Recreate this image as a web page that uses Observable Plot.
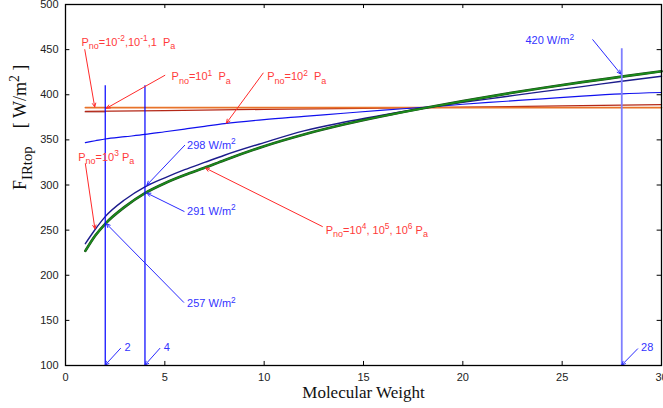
<!DOCTYPE html>
<html><head><meta charset="utf-8">
<script src="https://cdn.jsdelivr.net/npm/d3@7"></script>
<script src="https://cdn.jsdelivr.net/npm/@observablehq/plot@0.6"></script>
<style>html,body{margin:0;padding:0;background:#fff;overflow:hidden} svg{display:block}</style>
</head><body><div id="chart"></div>
<script>
// ---- data ----
const xTicks = [0, 5, 10, 15, 20, 25, 30];
const yTicks = [100, 150, 200, 250, 300, 350, 400, 450, 500];

const molWeight = [1, 1.5, 2, 3, 4, 5, 6, 7, 8, 10, 12, 14, 16, 18, 20, 22, 24, 26, 28, 30];
const fluxP1e4to1e6 = [227, 244, 257, 276, 291, 302, 311, 319, 327.5, 343, 356, 367, 376.5, 385, 393, 400.5, 407.5, 414, 420, 426];
const fluxP1e3 = [235, 251, 265, 284, 298, 308, 317, 325, 333, 347, 360, 369.5, 377.5, 385, 391.5, 397.5, 403.5, 409, 415, 420.5];
const fluxP1e2 = [347, 349, 351, 353.5, 356, 359, 362, 365, 368, 372.5, 376, 379.5, 383, 386, 389.5, 392.5, 395.5, 398.5, 401, 402.5];

const lowPWeight = [1, 5, 10, 15, 20, 25, 30];
const fluxLowP = [385.8, 385.8, 385.8, 385.8, 385.8, 385.8, 385.8];   // 10^-2, 10^-1, 1 Pa
const fluxP1e1 = [381.5, 382.5, 383.8, 385, 386.3, 387.6, 389];       // 10^1 Pa
const roseWeight = [1, 2];
const fluxRose = [381, 381];

const markerWeight = [2, 4];
const markerTop = [410, 410];
const n2Weight = [28];
const n2Top = [451];

const redLabels = [
  {text: "P_{no}=10^{-2},10^{-1},1  P_{a}", x: 0.8, y: 458},
  {text: "P_{no}=10^{1}  P_{a}", x: 5.34, y: 420},
  {text: "P_{no}=10^{2}  P_{a}", x: 10.15, y: 420},
  {text: "P_{no}=10^{3} P_{a}", x: 0.64, y: 331},
  {text: "P_{no}=10^{4}, 10^{5}, 10^{6} P_{a}", x: 13.1, y: 250}
];
const redArrows = [
  {x1: 0.97, y1: 450, x2: 1.47, y2: 386.5},
  {x1: 5.0, y1: 421.5, x2: 2.06, y2: 385},
  {x1: 9.95, y1: 424, x2: 8.1, y2: 368.6},
  {x1: 1.0, y1: 323.6, x2: 1.48, y2: 251.5},
  {x1: 12.93, y1: 254, x2: 7.05, y2: 318.7}
];
const blueLabels = [
  {text: "420 W/m^{2}", x: 23.15, y: 460},
  {text: "298 W/m^{2}", x: 6.12, y: 344},
  {text: "291 W/m^{2}", x: 6.12, y: 270.7},
  {text: "257 W/m^{2}", x: 6.12, y: 168.4},
  {text: "2", x: 2.97, y: 119.6},
  {text: "4", x: 4.95, y: 119.6},
  {text: "28", x: 28.97, y: 119.6}
];
const blueArrows = [
  {x1: 26.54, y1: 461, x2: 27.95, y2: 423},
  {x1: 6.0, y1: 344, x2: 4.1, y2: 300},
  {x1: 5.97, y1: 270.7, x2: 4.1, y2: 291},
  {x1: 5.95, y1: 170, x2: 2.06, y2: 257},
  {x1: 2.77, y1: 119, x2: 2.0, y2: 100.5},
  {x1: 4.75, y1: 119, x2: 4.0, y2: 100.5},
  {x1: 28.8, y1: 118.5, x2: 28.0, y2: 100.5}
];

// ---- build tables ----
const curve = (xs, ys) => xs.map((x, i) => ({x, y: ys[i]}));
const serif = "'Liberation Serif', 'Times New Roman', serif";
const sans = "'Liberation Sans', Arial, Helvetica, sans-serif";

const chart = Plot.plot({
  width: 663, height: 408,
  marginLeft: 65, marginRight: 2, marginTop: 4, marginBottom: 43,
  x: {domain: [0, 30]},
  y: {domain: [100, 500]},
  style: {fontFamily: sans, fontSize: "11px", color: "#222", background: "#fff"},
  marks: [
    Plot.axisX(xTicks, {tickSize: 0, tickPadding: 8, label: null, fontSize: 11}),
    Plot.axisY(yTicks, {tickSize: 0, tickPadding: 7, label: null, fontSize: 11}),
    // curves
    Plot.line(curve(roseWeight, fluxRose), {x: "x", y: "y", stroke: "#cf9a9a", strokeWidth: 1.6}),
    Plot.line(curve(lowPWeight, fluxP1e1), {x: "x", y: "y", stroke: "#b42818", strokeWidth: 1.3}),
    Plot.line(curve(lowPWeight, fluxLowP), {x: "x", y: "y", stroke: "#e8732a", strokeWidth: 1.7}),
    Plot.line(curve(molWeight, fluxP1e2), {x: "x", y: "y", stroke: "#1010ee", strokeWidth: 1.2, curve: "monotone-x"}),
    Plot.line(curve(molWeight, fluxP1e3), {x: "x", y: "y", stroke: "#1c1c8c", strokeWidth: 1.4, curve: "monotone-x"}),
    Plot.line(curve(molWeight, fluxP1e4to1e6), {x: "x", y: "y", stroke: "#1a4a1a", strokeWidth: 2.7, curve: "monotone-x"}),
    Plot.line(curve(molWeight, fluxP1e4to1e6), {x: "x", y: "y", stroke: "#1b8c1b", strokeWidth: 1.7, curve: "monotone-x"}),
    // vertical markers
    Plot.ruleX(curve(markerWeight, markerTop), {x: "x", y1: 100, y2: "y", stroke: "#0000ff", strokeWidth: 1.2}),
    Plot.ruleX(curve(n2Weight, n2Top), {x: "x", y1: 100, y2: "y", stroke: "#7f7fff", strokeWidth: 1.8}),
    // arrows
    Plot.arrow(redArrows, {x1: "x1", y1: "y1", x2: "x2", y2: "y2", stroke: "#ff2a2a", strokeWidth: 1, headLength: 6, headAngle: 50}),
    Plot.arrow(blueArrows, {x1: "x1", y1: "y1", x2: "x2", y2: "y2", stroke: "#2a2aff", strokeWidth: 1, headLength: 6, headAngle: 50}),
    // labels
    Plot.text(redLabels, {x: "x", y: "y", text: "text", textAnchor: "start", fill: "#ff3a3a", fontSize: 11, fontFamily: sans}),
    Plot.text(blueLabels, {x: "x", y: "y", text: "text", textAnchor: "start", fill: "#3333ff", fontSize: 11, fontFamily: sans}),
    // axis titles
    Plot.text(["Molecular Weight"], {frameAnchor: "bottom", dy: 32, fontFamily: serif, fontSize: 17, fill: "#111"}),
    Plot.text(["F_{IRtop}    [ W/m^{2} ]"], {frameAnchor: "left", dx: -45, dy: 5, rotate: -90, fontFamily: serif, fontSize: 18, fill: "#111"}),
    // inward ticks on all four sides
    Plot.ruleX(xTicks, {y1: 100, y2: 104.5, stroke: "#000"}),
    Plot.ruleX(xTicks, {y1: 495.5, y2: 500, stroke: "#000"}),
    Plot.ruleY(yTicks, {x1: 0, x2: 0.22, stroke: "#000"}),
    Plot.ruleY(yTicks, {x1: 29.78, x2: 30, stroke: "#000"}),
    Plot.frame({stroke: "#000", strokeWidth: 1.3})
  ]
});
document.getElementById("chart").appendChild(chart);

// rich text: _{..} subscript, ^{..} superscript
function richify(svg) {
  svg.querySelectorAll("text").forEach(t => {
    const s = t.textContent;
    if (!/[_^]\{/.test(s)) return;
    const fs = parseFloat(getComputedStyle(t).fontSize) || 11;
    const segs = [];
    const re = /([_^])\{([^}]*)\}|([^_^]+)/g;
    let m;
    while ((m = re.exec(s))) {
      if (m[1]) segs.push({t: m[2], mode: m[1]});
      else segs.push({t: m[3], mode: ""});
    }
    t.textContent = "";
    t.setAttributeNS("http://www.w3.org/XML/1998/namespace", "xml:space", "preserve");
    t.style.whiteSpace = "pre";
    let cur = 0;
    for (const sg of segs) {
      const ts = document.createElementNS("http://www.w3.org/2000/svg", "tspan");
      const target = sg.mode === "^" ? -0.42 * fs : sg.mode === "_" ? 0.3 * fs : 0;
      if (target !== cur) ts.setAttribute("dy", target - cur);
      cur = target;
      if (sg.mode) ts.setAttribute("font-size", (fs * (sg.mode === "_" ? 0.82 : 0.76)).toFixed(1));
      ts.textContent = sg.t;
      t.appendChild(ts);
    }
  });
}
richify(chart);
</script>
</body></html>
